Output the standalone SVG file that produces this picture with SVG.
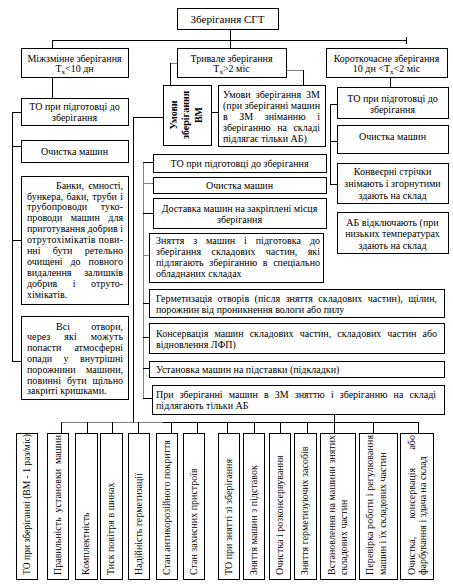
<svg xmlns="http://www.w3.org/2000/svg" width="453" height="587" viewBox="0 0 453 587">
<style>
rect{fill:#fff;stroke:#000;stroke-width:1;shape-rendering:crispEdges}
text{font-family:"Liberation Serif","Times New Roman",serif;font-size:10px;fill:#000}
.c{text-anchor:middle}
#connectors line{stroke:#000;stroke-width:1;shape-rendering:crispEdges}
#connectors line.g{stroke:#808080}
.sub{font-size:7px}
</style>
<rect x="0" y="0" width="453" height="587" style="stroke:none;fill:#fff"/>
<g id="connectors">
<line x1="230" y1="29" x2="230" y2="48"/>
<line x1="52" y1="40" x2="406" y2="40"/>
<line x1="52" y1="40" x2="52" y2="48"/>
<line x1="406" y1="37" x2="406" y2="44"/>
<line x1="52" y1="77" x2="52" y2="98"/>
<line class="g" x1="170" y1="63" x2="177" y2="63"/>
<line x1="170" y1="63" x2="170" y2="85"/>
<line class="g" x1="286" y1="70" x2="303" y2="70"/>
<line x1="303" y1="70" x2="303" y2="85"/>
<line x1="390" y1="77" x2="390" y2="87"/>
<line x1="211" y1="112" x2="218" y2="112"/>
<line x1="133" y1="117" x2="163" y2="117"/>
<line x1="133" y1="117" x2="133" y2="422"/>
<line class="g" x1="143" y1="162" x2="143" y2="398"/>
<line x1="143" y1="162" x2="153" y2="162"/>
<line class="g" x1="143" y1="183" x2="153" y2="183"/>
<line x1="143" y1="213" x2="153" y2="213"/>
<line class="g" x1="143" y1="255" x2="149" y2="255"/>
<line x1="143" y1="303" x2="149" y2="303"/>
<line x1="143" y1="337" x2="149" y2="337"/>
<line x1="143" y1="368" x2="149" y2="368"/>
<line x1="143" y1="398" x2="152" y2="398"/>
<line x1="12" y1="112" x2="12" y2="361"/>
<line x1="12" y1="112" x2="21" y2="112"/>
<line x1="12" y1="146" x2="21" y2="146"/>
<line x1="12" y1="240" x2="21" y2="240"/>
<line x1="12" y1="361" x2="21" y2="361"/>
<line x1="330" y1="104" x2="330" y2="184"/>
<line x1="330" y1="104" x2="337" y2="104"/>
<line x1="330" y1="141" x2="337" y2="141"/>
<line x1="330" y1="184" x2="337" y2="184"/>
<line x1="334" y1="414" x2="334" y2="433"/>
<line class="g" x1="61" y1="422" x2="163" y2="422"/>
<line x1="163" y1="422" x2="418" y2="422"/>
<line x1="61" y1="422" x2="61" y2="433"/>
<line x1="87" y1="422" x2="87" y2="433"/>
<line x1="112" y1="422" x2="112" y2="433"/>
<line x1="138" y1="422" x2="138" y2="433"/>
<line x1="171" y1="422" x2="171" y2="433"/>
<line x1="197" y1="422" x2="197" y2="433"/>
<line x1="227" y1="422" x2="227" y2="433"/>
<line x1="254" y1="422" x2="254" y2="433"/>
<line x1="280" y1="422" x2="280" y2="433"/>
<line x1="307" y1="422" x2="307" y2="433"/>
<line x1="373" y1="422" x2="373" y2="433"/>
<line x1="418" y1="422" x2="418" y2="433"/>
</g>
<g id="root"><rect x="177" y="8" width="101" height="21"/><text class="c" x="227.5" y="23" style="font-size:11px">Зберігання СГТ</text></g>
<g id="interchange"><rect x="21" y="48" width="107" height="29"/><text class="c" x="74.5" y="61.5">Міжзмінне зберігання</text><text class="c" x="74.5" y="71.5">Т<tspan class="sub" dy="2">х</tspan><tspan dy="-2">&lt;10 дн</tspan></text></g>
<g id="longterm"><rect x="177" y="48" width="109" height="29"/><text class="c" x="231.5" y="61.5">Тривале зберігання</text><text class="c" x="231.5" y="71.5">Т<tspan class="sub" dy="2">х</tspan><tspan dy="-2">&gt;2 міс</tspan></text></g>
<g id="shortterm"><rect x="326" y="48" width="121" height="29"/><text class="c" x="386.5" y="61.5">Короткочасне зберігання</text><text class="c" x="386.5" y="71.5">10 дн &lt;Т<tspan class="sub" dy="2">х</tspan><tspan dy="-2">&lt;2 міс</tspan></text></g>
<g id="l-prep"><rect x="21" y="98" width="107" height="27"/><text class="c" x="74.5" y="110">ТО при підготовці до</text><text class="c" x="74.5" y="121">зберігання</text></g>
<g id="l-clean"><rect x="21" y="140" width="107" height="22"/><text class="c" x="74.5" y="154.5">Очистка машин</text></g>
<g id="l-tanks"><rect x="21" y="176" width="107" height="128"/>
<text x="56" y="188.5" textLength="67" lengthAdjust="spacing" word-spacing="2">Банки, ємності,</text>
<text x="27" y="199.5" textLength="96" lengthAdjust="spacing" word-spacing="0.8">бункера, баки, труби і</text>
<text x="27" y="210.4" textLength="96" lengthAdjust="spacing" word-spacing="11">трубопроводи туко-</text>
<text x="27" y="221.4" textLength="96" lengthAdjust="spacing" word-spacing="5.9">проводи машин для</text>
<text x="27" y="232.3" textLength="96" lengthAdjust="spacing">приготування добрив і</text>
<text x="27" y="243.3" textLength="96" lengthAdjust="spacing">отрутохімікатів пови-</text>
<text x="27" y="254.2" textLength="96" lengthAdjust="spacing" word-spacing="9.8">нні бути ретельно</text>
<text x="27" y="265.2" textLength="96" lengthAdjust="spacing" word-spacing="5.4">очищені до повного</text>
<text x="27" y="276.1" textLength="96" lengthAdjust="spacing" word-spacing="10.3">видалення залишків</text>
<text x="27" y="287.1" textLength="96" lengthAdjust="spacing" word-spacing="13">добрив і отруто-</text>
<text x="27" y="298">хімікатів.</text></g>
<g id="l-holes"><rect x="21" y="316" width="107" height="83"/>
<text x="56" y="329.5" textLength="67" lengthAdjust="spacing" word-spacing="18.7">Всі отвори,</text>
<text x="27" y="340.3" textLength="96" lengthAdjust="spacing" word-spacing="11.3">через які можуть</text>
<text x="27" y="351.1" textLength="96" lengthAdjust="spacing" word-spacing="10.7">попасти атмосферні</text>
<text x="27" y="361.9" textLength="96" lengthAdjust="spacing" word-spacing="8.9">опади у внутрішні</text>
<text x="27" y="372.7" textLength="96" lengthAdjust="spacing" word-spacing="7.9">порожнини машини,</text>
<text x="27" y="383.5" textLength="96" lengthAdjust="spacing" word-spacing="3.5">повинні бути щільно</text>
<text x="27" y="394.3">закриті кришками.</text></g>
<g id="m-vm"><rect x="163" y="85" width="48" height="60"/>
<text class="c" transform="translate(176.5,115) rotate(-90)" style="font-weight:bold">Умови</text>
<text class="c" transform="translate(188.5,115) rotate(-90)" style="font-weight:bold">зберігання</text>
<text class="c" transform="translate(202,115) rotate(-90)" style="font-weight:bold">ВМ</text></g>
<g id="m-zm"><rect x="218" y="85" width="107" height="61"/>
<text x="223" y="97.5" textLength="97" lengthAdjust="spacing" word-spacing="2.5">Умови зберігання ЗМ</text>
<text x="223" y="108.5" textLength="97" lengthAdjust="spacing">(при зберіганні машин</text>
<text x="223" y="119.6" textLength="97" lengthAdjust="spacing" word-spacing="9">в ЗМ зніманню і</text>
<text x="223" y="130.7" textLength="97" lengthAdjust="spacing" word-spacing="3.9">зберіганню на складі</text>
<text x="223" y="141.7">підлягає тільки АБ)</text></g>
<g id="m-prep"><rect x="153" y="154" width="173" height="18"/><text class="c" x="239.5" y="167">ТО при підготовці до зберігання</text></g>
<g id="m-clean"><rect x="153" y="177" width="173" height="16"/><text class="c" x="239.5" y="188.5">Очистка машин</text></g>
<g id="m-deliver"><rect x="153" y="198" width="173" height="30"/><text class="c" x="239.5" y="211.5">Доставка машин на закріплені місця</text><text class="c" x="239.5" y="222.5">зберігання</text></g>
<g id="m-remove"><rect x="149" y="233" width="174" height="49"/>
<text x="156" y="243.5" textLength="164" lengthAdjust="spacing" word-spacing="6.3">Зняття з машин і підготовка до</text>
<text x="156" y="254.8" textLength="164" lengthAdjust="spacing" word-spacing="7.9">зберігання складових частин, які</text>
<text x="156" y="266" textLength="164" lengthAdjust="spacing" word-spacing="3.1">підлягають зберіганню в спеціально</text>
<text x="156" y="277.3">обладнаних складах</text></g>
<g id="m-seal"><rect x="149" y="289" width="295" height="28"/>
<text x="156" y="301.5" textLength="281" lengthAdjust="spacing" word-spacing="2.9">Герметизація отворів (після зняття складових частин), щілин,</text>
<text x="156" y="312.5">порожнин від проникнення вологи або пилу</text></g>
<g id="m-conserve"><rect x="149" y="323" width="295" height="30"/>
<text x="156" y="336.5" textLength="281" lengthAdjust="spacing" word-spacing="3.6">Консервація машин складових частин, складових частин або</text>
<text x="156" y="348">відновлення ЛФП)</text></g>
<g id="m-stands"><rect x="149" y="361" width="295" height="16"/><text x="156" y="373">Установка машин на підставки (підкладки)</text></g>
<g id="m-battery"><rect x="152" y="385" width="292" height="29"/>
<text x="156" y="397.5" textLength="280" lengthAdjust="spacing" word-spacing="3.7">При зберіганні машин в ЗМ зняттю і зберіганню на складі</text>
<text x="156" y="409">підлягають тільки АБ</text></g>
<g id="r-prep"><rect x="337" y="87" width="111" height="31"/><text class="c" x="392.5" y="101.5">ТО при підготовці до</text><text class="c" x="392.5" y="113">зберігання</text></g>
<g id="r-clean"><rect x="337" y="125" width="111" height="28"/><text class="c" x="392.5" y="140">Очистка машин</text></g>
<g id="r-belts"><rect x="337" y="163" width="111" height="40"/><text class="c" x="392.5" y="174.5">Конвеєрні стрічки</text><text class="c" x="392.5" y="186.5">знімають і згорнутими</text><text class="c" x="392.5" y="198.5">здають на склад</text></g>
<g id="r-battery"><rect x="337" y="212" width="111" height="41"/><text class="c" x="392.5" y="225.5">АБ відключають (при</text><text class="c" x="392.5" y="237">низьких температурах</text><text class="c" x="392.5" y="248.5">здають на склад</text></g>
<g id="b1"><rect x="16" y="433" width="21" height="146"/><text transform="translate(29.8,575) rotate(-90)" textLength="141" lengthAdjust="spacingAndGlyphs">ТО при зберіганні (ВМ - 1 раз/міс)</text></g>
<g id="b2"><rect x="47" y="433" width="21" height="146"/><text transform="translate(60.8,575) rotate(-90)" textLength="140" lengthAdjust="spacing" word-spacing="2.3">Правильність установки машин</text></g>
<g id="b3"><rect x="75" y="433" width="22" height="146"/><text transform="translate(89.3,575) rotate(-90)">Комплектність</text></g>
<g id="b4"><rect x="100" y="433" width="22" height="146"/><text transform="translate(114.3,575) rotate(-90)">Тиск повітря в шинах</text></g>
<g id="b5"><rect x="128" y="433" width="21" height="146"/><text transform="translate(141.8,575) rotate(-90)">Надійність герметизації</text></g>
<g id="b6"><rect x="156" y="433" width="21" height="146"/><text transform="translate(169.8,575) rotate(-90)">Стан антикорозійного покриття</text></g>
<g id="b7"><rect x="183" y="433" width="21" height="146"/><text transform="translate(196.8,575) rotate(-90)">Стан захисних пристроїв</text></g>
<g id="b8"><rect x="218" y="433" width="21" height="146"/><text transform="translate(231.8,575) rotate(-90)">ТО при знятті зі зберігання</text></g>
<g id="b9"><rect x="243" y="433" width="21" height="146"/><text transform="translate(256.8,575) rotate(-90)">Зняття машин з підставок</text></g>
<g id="b10"><rect x="269" y="433" width="21" height="146"/><text transform="translate(282.8,575) rotate(-90)">Очистка і розконсервування</text></g>
<g id="b11"><rect x="294" y="433" width="22" height="146"/><text transform="translate(308.3,575) rotate(-90)">Зняття герметизуючих засобів</text></g>
<g id="b12"><rect x="320" y="433" width="35" height="146"/><text transform="translate(335.3,575) rotate(-90)" textLength="140" lengthAdjust="spacing">Встановлення на машини знятих</text><text transform="translate(347.3,575) rotate(-90)">складових частин</text></g>
<g id="b13"><rect x="359" y="433" width="38" height="146"/><text transform="translate(373.3,575) rotate(-90)" textLength="140" lengthAdjust="spacing">Перевірка роботи і регулювання</text><text transform="translate(386.3,575) rotate(-90)">машин і їх складових частин</text></g>
<g id="b14"><rect x="400" y="433" width="33" height="146"/><text transform="translate(415.3,575) rotate(-90)" textLength="140" lengthAdjust="spacing" word-spacing="15.7">Очистка, консервація або</text><text transform="translate(426.3,575) rotate(-90)">фарбування і здача на склад</text></g>
</svg>
